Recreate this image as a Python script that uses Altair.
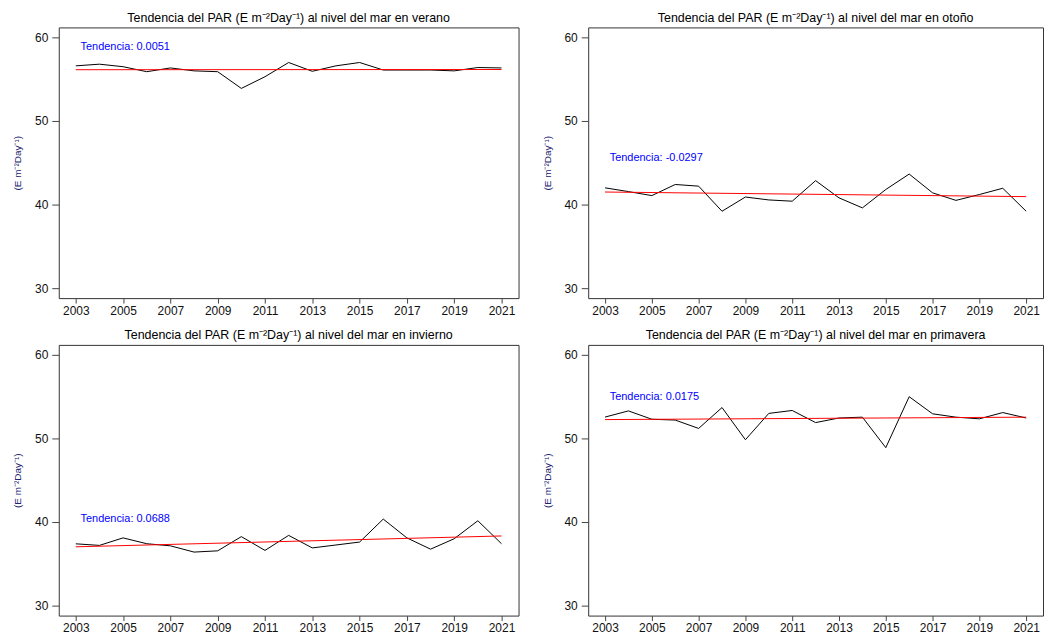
import altair as alt
import pandas as pd

years = list(range(2003, 2022))

verano = [56.6, 56.8, 56.5, 55.9, 56.35, 56.0, 55.9, 53.9, 55.3, 57.0,
          55.95, 56.6, 57.0, 56.1, 56.1, 56.1, 56.0, 56.4, 56.35]
otono = [42.0, 41.55, 41.07, 42.4, 42.2, 39.2, 40.9, 40.55, 40.4, 42.86,
         40.8, 39.6, 41.8, 43.65, 41.4, 40.5, 41.2, 41.95, 39.2]
invierno = [37.39, 37.2, 38.1, 37.4, 37.15, 36.4, 36.55, 38.25, 36.6, 38.4,
            36.9, 37.25, 37.6, 40.35, 38.1, 36.75, 38.0, 40.15, 37.4]
primavera = [52.56, 53.3, 52.3, 52.2, 51.2, 53.7, 49.85, 53.0, 53.35, 51.9,
             52.45, 52.55, 48.9, 55.0, 52.95, 52.55, 52.35, 53.1, 52.45]

season_names = ["verano", "otoño", "invierno", "primavera"]
season_values = [verano, otono, invierno, primavera]
slope_labels = ["Tendencia: 0.0051", "Tendencia: -0.0297", "Tendencia: 0.0688", "Tendencia: 0.0175"]
label_y = [58.8, 45.6, 40.3, 55.0]
y_ticks = [30, 40, 50, 60]

FONT = "Liberation Sans"
UNIT = "(E m\u207b\u00b2Day\u207b\u00b9)"


def panel(name, vals, slope_text, ly, w):
    df = pd.DataFrame({"year": years, "par": vals})
    xenc = alt.X(
        "year:Q",
        scale=alt.Scale(domain=[2002.28, 2021.72], nice=False, zero=False),
        axis=alt.Axis(
            values=years,
            format="d",
            labelExpr="datum.value % 2 == 1 ? datum.label : ''",
            title=None,
            grid=False,
            domain=False,
            tickSize=5,
            tickColor="#444",
            labelColor="#111",
            labelFontSize=12,
            labelPadding=2,
            labelFont=FONT,
        ),
    )
    yenc = alt.Y(
        "par:Q",
        scale=alt.Scale(domain=[28.8, 61.2], nice=False, zero=False),
        axis=alt.Axis(
            values=y_ticks,
            title=UNIT,
            titleFontSize=10,
            titleFontWeight="normal",
            titleColor="#22226e",
            titleFont=FONT,
            titlePadding=12,
            grid=False,
            domain=False,
            tickSize=7,
            tickColor="#444",
            labelColor="#111",
            labelFontSize=12,
            labelPadding=4,
            labelFont=FONT,
        ),
    )
    base = alt.Chart(df).encode(x=xenc, y=yenc)
    line = base.mark_line(color="black", strokeWidth=1)
    trend = (
        alt.Chart(df)
        .transform_regression("year", "par", method="linear")
        .mark_line(color="red", strokeWidth=1)
        .encode(x=xenc, y=yenc)
    )
    txt = (
        alt.Chart(pd.DataFrame({"t": [slope_text]}))
        .mark_text(align="left", baseline="middle", color="#0000ff", fontSize=11, font=FONT)
        .encode(x=alt.datum(2003.2), y=alt.datum(ly), text="t:N")
    )
    return alt.layer(line, trend, txt).properties(
        width=w,
        height=272,
        title=alt.TitleParams(
            f"Tendencia del PAR {UNIT} al nivel del mar en {name}",
            fontSize=12.5,
            fontWeight="normal",
            font=FONT,
            color="black",
            offset=3,
        ),
    )


panels = [panel(n, v, s, ly, w) for n, v, s, ly, w in
          zip(season_names, season_values, slope_labels, label_y, [462, 457, 462, 457])]

chart = (
    alt.vconcat(
        alt.hconcat(panels[0], panels[1], spacing=22),
        alt.hconcat(panels[2], panels[3], spacing=22),
        spacing=12,
    )
    .properties(padding={"left": 4, "top": 2, "right": 0, "bottom": 0})
    .configure_view(stroke="#333", strokeWidth=1)
)

chart.save("out.html", embed_options={"renderer": "svg", "actions": False})
